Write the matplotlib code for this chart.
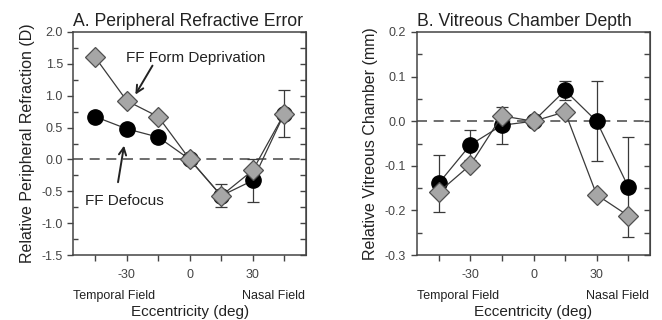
import numpy as np
import matplotlib
matplotlib.use("Agg")
import matplotlib.pyplot as plt
from matplotlib.ticker import MultipleLocator, FixedLocator, FormatStrFormatter

plt.rcParams['font.family'] = ['Liberation Sans', 'DejaVu Sans']

ecc = [-45, -30, -15, 0, 15, 30, 45]

# A. peripheral refraction (D)
refr_defocus = [0.67, 0.48, 0.35, 0.0, -0.57, -0.33, 0.72]
refr_defocus_err = [0.05, 0.08, 0.05, 0.0, 0.18, 0.33, 0.37]
refr_formdep = [1.60, 0.92, 0.67, 0.0, -0.57, -0.17, 0.72]

# B. vitreous chamber (mm)
vcd_defocus = [-0.139, -0.053, -0.009, 0.0, 0.069, 0.0, -0.147]
vcd_defocus_err = [0.064, 0.033, 0.041, 0.0, 0.021, 0.09, 0.112]
vcd_formdep = [-0.159, -0.098, 0.012, 0.0, 0.021, -0.165, -0.212]

fig = plt.figure(figsize=(6.62, 3.2), dpi=100)
axA = fig.add_axes([0.1107, 0.203, 0.352, 0.697])
axB = fig.add_axes([0.6294, 0.203, 0.353, 0.697])

txt = '#222222'
tick_c = '#444444'
line_c = '#3a3a3a'


def draw(ax, y1, e1, y2, ylim, major, minor, title, ylabel):
    ax.axhline(0, color='#555555', lw=1.2, dashes=(6, 4), zorder=1)
    ax.errorbar(ecc, y1, yerr=e1, fmt='none', ecolor=line_c, elinewidth=0.9,
                capsize=4, capthick=0.9, zorder=2)
    ax.plot(ecc, y1, color=line_c, lw=0.9, marker='o', ms=11,
            mfc='black', mec='black', zorder=3)
    ax.plot(ecc, y2, color=line_c, lw=0.9, marker='D', ms=10,
            mfc='#a6a6a6', mec='#505050', mew=0.9, zorder=4)
    ax.set_xlim(-55.5, 55.5)
    ax.set_ylim(*ylim)
    ax.xaxis.set_major_locator(FixedLocator([-30, 0, 30]))
    ax.xaxis.set_minor_locator(FixedLocator([-45, -15, 15, 45]))
    ax.set_xticklabels(['-30', '0', '30'])
    ax.yaxis.set_major_locator(MultipleLocator(major))
    ax.yaxis.set_minor_locator(MultipleLocator(minor))
    ax.yaxis.set_major_formatter(FormatStrFormatter('%.1f'))
    ax.tick_params(axis='x', which='both', direction='out', length=4,
                   width=1, top=False, labelsize=9, labelcolor=tick_c,
                   color='#444444', pad=6)
    ax.tick_params(axis='y', which='major', direction='out', length=4,
                   width=1, right=False, labelsize=9, labelcolor=tick_c,
                   color='#444444')
    ax.tick_params(axis='y', which='minor', direction='in', length=3.5,
                   width=1, right=False, color='#444444')
    # mirrored ticks pointing inward on the right spine
    sec = ax.secondary_yaxis('right')
    sec.yaxis.set_major_locator(MultipleLocator(minor))
    sec.tick_params(direction='in', length=4, width=1, labelright=False,
                    color='#444444')
    sec.spines['right'].set_color('#444444')
    for s in ax.spines.values():
        s.set_linewidth(1.1)
        s.set_color('#444444')
    ax.set_title(title, loc='left', fontsize=12.7, color=txt, pad=4)
    ax.set_ylabel(ylabel, fontsize=11.5, color=txt, labelpad=5)
    ax.set_xlabel('Eccentricity (deg)', fontsize=11, color=txt, labelpad=17)
    ax.text(0.0, -0.185, 'Temporal Field', transform=ax.transAxes,
            ha='left', va='center', fontsize=9, color=txt)
    ax.text(0.995, -0.185, 'Nasal Field', transform=ax.transAxes,
            ha='right', va='center', fontsize=9, color=txt)


draw(axA, refr_defocus, refr_defocus_err, refr_formdep, (-1.5, 2.0), 0.5, 0.25,
     'A. Peripheral Refractive Error', 'Relative Peripheral Refraction (D)')

draw(axB, vcd_defocus, vcd_defocus_err, vcd_formdep, (-0.3, 0.2), 0.1, 0.05,
     'B. Vitreous Chamber Depth', 'Relative Vitreous Chamber (mm)')

arrow = dict(arrowstyle='->', color='#222222', lw=1.4, mutation_scale=13)
axA.text(-30.6, 1.59, 'FF Form Deprivation', fontsize=11, color=txt,
         va='center', ha='left')
axA.annotate('', xy=(-26.6, 0.98), xytext=(-17.1, 1.51), arrowprops=arrow)
axA.text(-49.7, -0.65, 'FF Defocus', fontsize=11, color=txt,
         va='center', ha='left')
axA.annotate('', xy=(-31.1, 0.26), xytext=(-34.4, -0.40), arrowprops=arrow)

fig.savefig('out.png', dpi=100)
